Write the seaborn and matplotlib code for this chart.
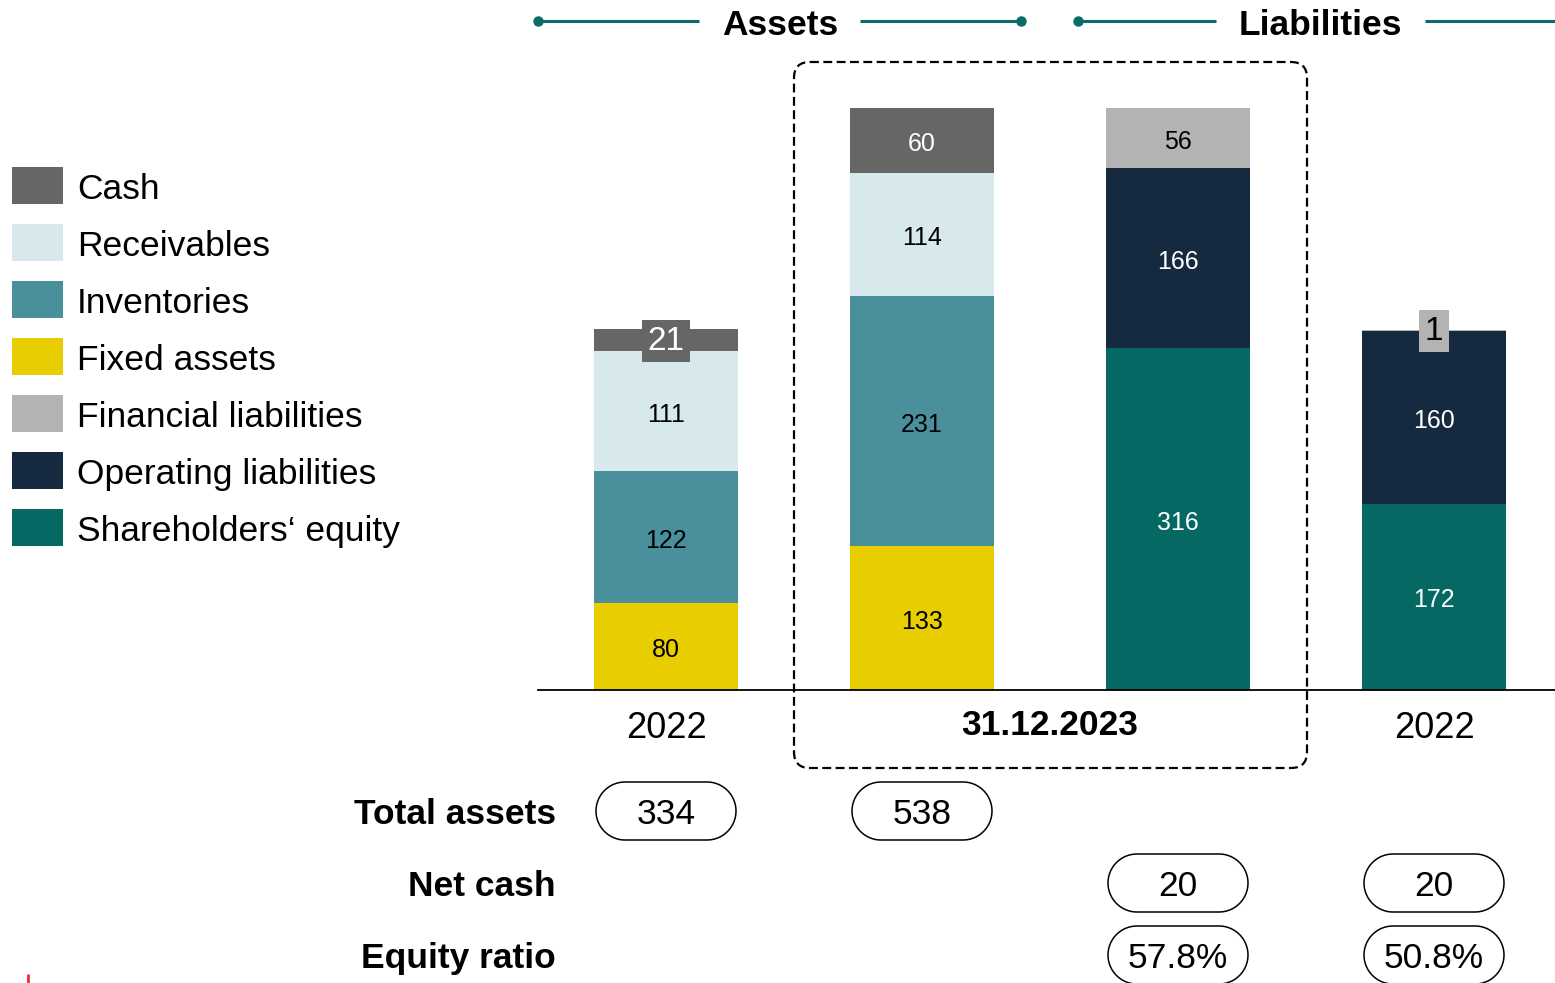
"""
Balance sheet structure: assets vs liabilities, stacked bars
"""

import matplotlib
matplotlib.use("Agg")
import matplotlib.pyplot as plt
import matplotlib.transforms as mtransforms
from matplotlib.patches import FancyBboxPatch, Rectangle, Polygon
import seaborn as sns
import numpy as np
import pandas as pd

# ---- data ----
columns = ["assets_2022", "assets_2023", "liab_2023", "liab_2022"]
year_labels = ["2022", "31.12.2023", "2022"]

asset_segments = ["Fixed assets", "Inventories", "Receivables", "Cash"]
assets_2022 = [80, 122, 111, 21]
assets_2023 = [133, 231, 114, 60]

liab_segments = ["Shareholders‘ equity", "Operating liabilities", "Financial liabilities"]
liab_2023 = [316, 166, 56]
liab_2022 = [172, 160, 1]

total_assets = [334, 538]
net_cash = [20, 20]
equity_ratio = ["57.8%", "50.8%"]

legend_order = ["Cash", "Receivables", "Inventories", "Fixed assets",
                "Financial liabilities", "Operating liabilities", "Shareholders‘ equity"]
palette = {
    "Cash": "#666666",
    "Receivables": "#d7e9ec",
    "Inventories": "#4a8f9c",
    "Fixed assets": "#e8cd00",
    "Financial liabilities": "#b3b3b3",
    "Operating liabilities": "#152a3f",
    "Shareholders‘ equity": "#066863",
}
label_colors = {
    "Cash": "white", "Receivables": "black", "Inventories": "black",
    "Fixed assets": "black", "Financial liabilities": "black",
    "Operating liabilities": "white", "Shareholders‘ equity": "white",
}

# long table with cumulative tops (drawn tallest first so lower layers overlay)
rows = []
for col, segs, vals in [("assets_2022", asset_segments, assets_2022),
                        ("assets_2023", asset_segments, assets_2023),
                        ("liab_2023", liab_segments, liab_2023),
                        ("liab_2022", liab_segments, liab_2022)]:
    bottom = 0
    for seg, v in zip(segs, vals):
        rows.append({"col": col, "segment": seg, "value": v,
                     "bottom": bottom, "top": bottom + v})
        bottom += v
df = pd.DataFrame(rows)

# ---- figure ----
sns.set_style("white")
plt.rcParams['font.family'] = ['Liberation Sans', 'DejaVu Sans']
plt.rcParams['text.color'] = 'black'

W, H = 1555, 983
DY = 3.5        # visual centring nudge for text
FS = 25.5

fig = plt.figure(figsize=(W / 100, H / 100), dpi=100)

# overlay in pixel coordinates for layout elements
ov = fig.add_axes([0, 0, 1, 1])
ov.set_xlim(0, W)
ov.set_ylim(H, 0)
ov.axis("off")

# bar axes: baseline at y=690px, 1.082 px per unit, 256 px per category
px_per_unit = 1.082
ymax = 560
ax = fig.add_axes([538 / W, (H - 690) / H, (W - 538) / W, ymax * px_per_unit / H])
ax.patch.set_alpha(0)

for seg in legend_order:
    sub = df[df["segment"] == seg]
    sns.barplot(data=sub, x="col", y="top", order=columns, color=palette[seg],
                width=0.56, errorbar=None, linewidth=0, saturation=1, ax=ax)

ax.set_xlim(-0.5, -0.5 + (W - 538) / 256)
ax.set_ylim(0, ymax)
ax.set_xlabel("")
ax.set_ylabel("")
ax.set_xticks([])
ax.set_yticks([])
for s in ["top", "right", "left"]:
    ax.spines[s].set_visible(False)
ax.spines["bottom"].set_color("black")
ax.spines["bottom"].set_linewidth(1.3)

# segment labels
for _, r in df.iterrows():
    i = columns.index(r["col"])
    ymid = r["bottom"] + r["value"] / 2
    if r["value"] < 30:
        fc = palette[r["segment"]]
        ax.text(i, ymid - 1, str(r["value"]), ha="center", va="center",
                fontsize=24, color=label_colors[r["segment"]],
                bbox=dict(boxstyle="square,pad=0.16", fc=fc, ec="none"))
    else:
        ax.text(i, ymid - DY / px_per_unit, str(r["value"]), ha="center", va="center",
                fontsize=18, color=label_colors[r["segment"]])

# x positions in bar data coords, y in pixels
blend = mtransforms.blended_transform_factory(ax.transData, ov.transData)

ov.text(0, 725 + DY, year_labels[0], fontsize=26, ha="center", va="center", transform=blend)
ov.text(1.5, 722 + DY, year_labels[1], fontsize=FS, fontweight="bold",
        ha="center", va="center", transform=blend)
ov.text(3, 725 + DY, year_labels[2], fontsize=26, ha="center", va="center", transform=blend)

# header lines
teal = "#0b6b68"
ov.text(780, 22 + DY, "Assets", fontsize=FS, fontweight="bold", ha="center", va="center")
ov.text(1320, 22 + DY, "Liabilities", fontsize=FS, fontweight="bold", ha="center", va="center")
for x0, x1, dots in [(538, 699, [538]), (860, 1021, [1021]),
                     (1078, 1216, [1078]), (1425, 1560, [])]:
    ov.plot([x0, x1], [21, 21], color=teal, lw=2.2, solid_capstyle="butt")
    for d in dots:
        ov.plot(d, 21, "o", color=teal, markersize=6.5)

# dashed frame around 2023
frame = FancyBboxPatch((794, 62), 513, 706,
                       boxstyle="round,pad=0,rounding_size=16",
                       fc="none", ec="black", lw=1.6, linestyle=(0, (4, 2)))
ov.add_patch(frame)

# key figure rows
row_y = {"Total assets": 811, "Net cash": 883, "Equity ratio": 955}
for name, yy in row_y.items():
    ov.text(556, yy + DY, name, fontsize=FS, fontweight="bold", ha="right", va="center")


def pill(i, yc, txt):
    # stadium outline around a value, centred under bar i
    xc = blend.transform((i, yc))[0]
    xc = ov.transData.inverted().transform((xc, 0))[0]
    w, h = 140, 58
    r = h / 2
    t = np.linspace(-np.pi / 2, np.pi / 2, 40)
    right = np.column_stack([xc + w / 2 - r + r * np.cos(t), yc + r * np.sin(t)])
    left = np.column_stack([xc - w / 2 + r - r * np.cos(t), yc - r * np.sin(t)])
    pts = np.vstack([right, left])
    ov.add_patch(Polygon(pts, closed=True, fc="white", ec="black", lw=1.1))
    ov.text(xc, yc + DY, txt, fontsize=FS, ha="center", va="center")


for i, v in enumerate(total_assets):
    pill(i, row_y["Total assets"], str(v))
for i, v in enumerate(net_cash):
    pill(i + 2, row_y["Net cash"], str(v))
for i, v in enumerate(equity_ratio):
    pill(i + 2, row_y["Equity ratio"], v)

# legend
for k, seg in enumerate(legend_order):
    yc = 185 + 57 * k
    ov.add_patch(Rectangle((12, yc - 18.5), 51, 37, fc=palette[seg], ec="none"))
    ov.text(77, yc + 1 + DY, seg, fontsize=FS, ha="left", va="center")

# small red tick at bottom left
ov.plot([28, 28], [975, 983], color="#e8322e", lw=2)

fig.savefig("out.png", dpi=100)
plt.close(fig)
